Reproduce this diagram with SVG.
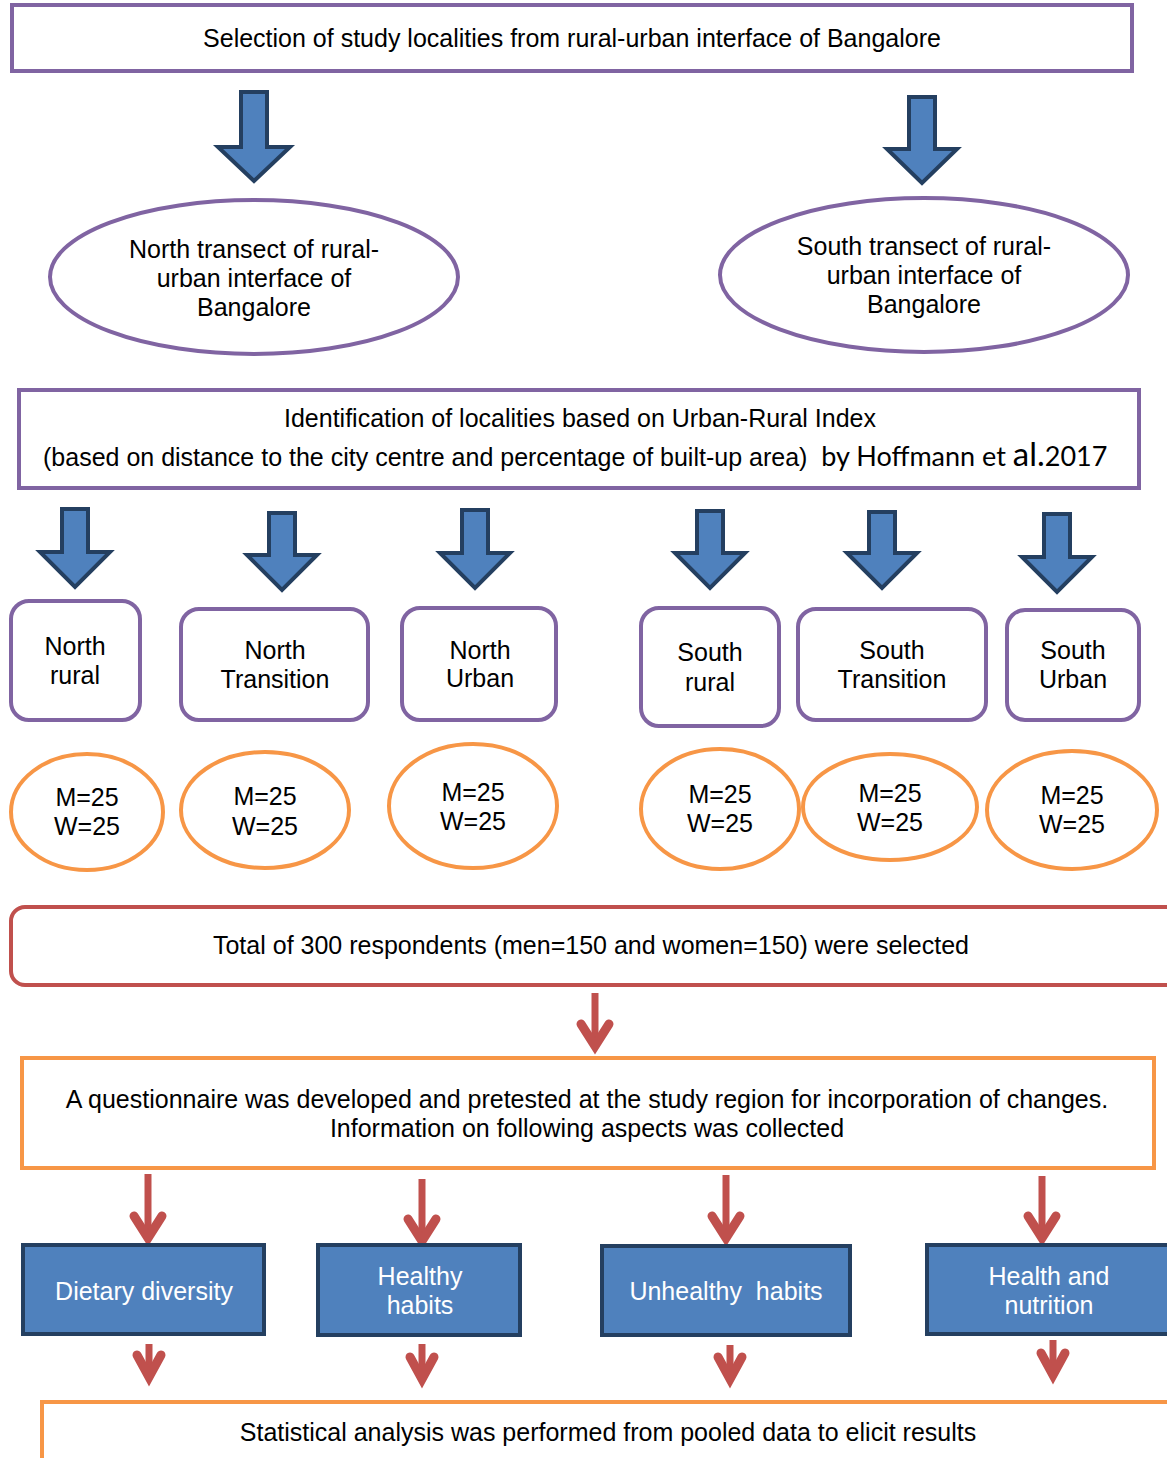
<svg xmlns="http://www.w3.org/2000/svg" width="1167" height="1458" viewBox="0 0 1167 1458">
<style>
text{font-family:"Liberation Sans",Arial,sans-serif;fill:#000;text-anchor:middle}
.t{font-size:25px}
.w{fill:#fff;font-size:25px}
.cal{font-family:Lato,"Open Sans",sans-serif;font-size:27px}
.pbox{fill:#fff;stroke:#8064A2;stroke-width:4}
.oel{fill:#fff;stroke:#F79646;stroke-width:4}
.bar{fill:#4F81BD;stroke:#243F60;stroke-width:4;stroke-linejoin:miter}
.bbox{fill:#4F81BD;stroke:#243F60;stroke-width:4}
.rs{stroke:#C0504D;stroke-width:7;fill:none}
.rh{stroke:#C0504D;stroke-width:9;fill:none;stroke-linecap:round;stroke-linejoin:miter}
</style>
<rect width="1167" height="1458" fill="#fff"/>

<g id="connectors">
<path class="bar" d="M241,92 H267 V147 H290 L254,181 L218,147 H241 Z"/>
<path class="bar" d="M909,97 H935 V149 H957 L922,183 L887,149 H909 Z"/>
<path class="bar" d="M62,509 H88 V552 H110 L75,587 L40,552 H62 Z"/>
<path class="bar" d="M269,513 H295 V555 H317 L282,590 L247,555 H269 Z"/>
<path class="bar" d="M462,510 H488 V553 H510 L475,588 L440,553 H462 Z"/>
<path class="bar" d="M697,511 H723 V553 H745 L710,588 L675,553 H697 Z"/>
<path class="bar" d="M869,512 H895 V553 H917 L882,588 L847,553 H869 Z"/>
<path class="bar" d="M1044,514 H1070 V557 H1092 L1057,592 L1022,557 H1044 Z"/>

<g>
<line class="rs" x1="595" y1="993" x2="595" y2="1042"/>
<polyline class="rh" points="581,1024 595,1046 609,1024"/>
<line class="rs" x1="148" y1="1174" x2="148" y2="1234"/>
<polyline class="rh" points="134,1216 148,1238 162,1216"/>
<line class="rs" x1="422" y1="1179" x2="422" y2="1237"/>
<polyline class="rh" points="408,1219 422,1241 436,1219"/>
<line class="rs" x1="726" y1="1175" x2="726" y2="1234"/>
<polyline class="rh" points="712,1216 726,1238 740,1216"/>
<line class="rs" x1="1042" y1="1176" x2="1042" y2="1234"/>
<polyline class="rh" points="1028,1216 1042,1238 1056,1216"/>
<line class="rs" x1="149" y1="1344" x2="149" y2="1374"/>
<polyline class="rh" points="137,1355 149,1377 161,1355"/>
<line class="rs" x1="422" y1="1344" x2="422" y2="1376"/>
<polyline class="rh" points="410,1357 422,1379 434,1357"/>
<line class="rs" x1="730" y1="1345" x2="730" y2="1376"/>
<polyline class="rh" points="718,1357 730,1379 742,1357"/>
<line class="rs" x1="1053" y1="1340" x2="1053" y2="1372"/>
<polyline class="rh" points="1041,1353 1053,1375 1065,1353"/>
</g>
</g>

<g id="n-top"><rect class="pbox" x="12" y="5" width="1120" height="66"/>
<text class="t" x="572" y="47">Selection of study localities from rural-urban interface of Bangalore</text></g>

<g id="n-north-transect"><ellipse class="pbox" cx="254" cy="277" rx="204" ry="77"/>
<text class="t" x="254" y="258">North transect of rural-</text>
<text class="t" x="254" y="287">urban interface of</text>
<text class="t" x="254" y="316">Bangalore</text></g>

<g id="n-south-transect"><ellipse class="pbox" cx="924" cy="275" rx="204" ry="77"/>
<text class="t" x="924" y="255">South transect of rural-</text>
<text class="t" x="924" y="284">urban interface of</text>
<text class="t" x="924" y="313">Bangalore</text></g>

<g id="n-identification"><rect class="pbox" x="19" y="390" width="1120" height="98"/>
<text class="t" x="580" y="427">Identification of localities based on Urban-Rural Index</text>
<text class="t" x="43" y="466" style="text-anchor:start;white-space:pre">(based on distance to the city centre and percentage of built-up area)  <tspan class="cal">by Hoffmann et </tspan><tspan class="cal" style="font-size:33px">al.</tspan><tspan class="cal">2017</tspan></text></g>

<g id="n-north-rural"><rect class="pbox" x="11" y="601" width="129" height="119" rx="18"/>
<text class="t" x="75" y="655">North</text><text class="t" x="75" y="684">rural</text></g>
<g id="n-north-transition"><rect class="pbox" x="181" y="609" width="187" height="111" rx="18"/>
<text class="t" x="275" y="659">North</text><text class="t" x="275" y="688">Transition</text></g>
<g id="n-north-urban"><rect class="pbox" x="402" y="608" width="154" height="112" rx="18"/>
<text class="t" x="480" y="659">North</text><text class="t" x="480" y="687">Urban</text></g>
<g id="n-south-rural"><rect class="pbox" x="641" y="608" width="138" height="118" rx="18"/>
<text class="t" x="710" y="661">South</text><text class="t" x="710" y="691">rural</text></g>
<g id="n-south-transition"><rect class="pbox" x="798" y="609" width="188" height="111" rx="18"/>
<text class="t" x="892" y="659">South</text><text class="t" x="892" y="688">Transition</text></g>
<g id="n-south-urban"><rect class="pbox" x="1007" y="610" width="132" height="110" rx="18"/>
<text class="t" x="1073" y="659">South</text><text class="t" x="1073" y="688">Urban</text></g>

<g id="n-count1"><ellipse class="oel" cx="87" cy="812" rx="76" ry="58"/>
<text class="t" x="87" y="806">M=25</text><text class="t" x="87" y="835">W=25</text></g>
<g id="n-count2"><ellipse class="oel" cx="265" cy="810" rx="84" ry="58"/>
<text class="t" x="265" y="805">M=25</text><text class="t" x="265" y="835">W=25</text></g>
<g id="n-count3"><ellipse class="oel" cx="473" cy="806" rx="84" ry="62"/>
<text class="t" x="473" y="801">M=25</text><text class="t" x="473" y="830">W=25</text></g>
<g id="n-count4"><ellipse class="oel" cx="720" cy="809" rx="79" ry="60"/>
<text class="t" x="720" y="803">M=25</text><text class="t" x="720" y="832">W=25</text></g>
<g id="n-count5"><ellipse class="oel" cx="890" cy="807" rx="87" ry="53"/>
<text class="t" x="890" y="802">M=25</text><text class="t" x="890" y="831">W=25</text></g>
<g id="n-count6"><ellipse class="oel" cx="1072" cy="810" rx="85" ry="59"/>
<text class="t" x="1072" y="804">M=25</text><text class="t" x="1072" y="833">W=25</text></g>

<g id="n-total"><rect x="11" y="907" width="1170" height="78" rx="14" fill="#fff" stroke="#C0504D" stroke-width="4"/>
<text class="t" x="591" y="954">Total of 300 respondents (men=150 and women=150) were selected</text></g>

<g id="n-questionnaire"><rect x="22" y="1058" width="1132" height="110" fill="#fff" stroke="#F79646" stroke-width="4"/>
<text class="t" x="587" y="1108">A questionnaire was developed and pretested at the study region for incorporation of changes.</text>
<text class="t" x="587" y="1137">Information on following aspects was collected</text></g>

<g id="n-dietary"><rect class="bbox" x="23" y="1245" width="241" height="89"/>
<text class="w" x="144" y="1300">Dietary diversity</text></g>
<g id="n-healthy"><rect class="bbox" x="318" y="1245" width="202" height="90"/>
<text class="w" x="420" y="1285">Healthy</text><text class="w" x="420" y="1314">habits</text></g>
<g id="n-unhealthy"><rect class="bbox" x="602" y="1246" width="248" height="89"/>
<text class="w" x="726" y="1300" style="white-space:pre">Unhealthy  habits</text></g>
<g id="n-health"><rect class="bbox" x="927" y="1245" width="250" height="89"/>
<text class="w" x="1049" y="1285">Health and</text><text class="w" x="1049" y="1314">nutrition</text></g>

<g id="n-stats"><rect x="42" y="1402" width="1140" height="80" fill="#fff" stroke="#F79646" stroke-width="4"/>
<text class="t" x="608" y="1441">Statistical analysis was performed from pooled data to elicit results</text></g>
</svg>
